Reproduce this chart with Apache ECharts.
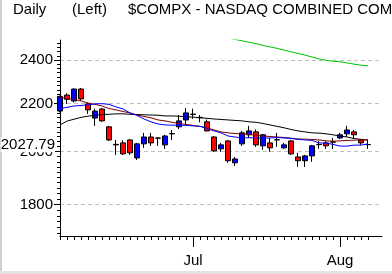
<!DOCTYPE html>
<html><head><meta charset="utf-8">
<script src="https://cdn.jsdelivr.net/npm/echarts@6/dist/echarts.min.js"></script>
<style>html,body{margin:0;padding:0;background:#fff}#c{width:392px;height:274px}</style>
</head><body><div id="c"></div>
<script>
const dates = ['6/5','6/6','6/7','6/8','6/11','6/12','6/13','6/14','6/15','6/18','6/19','6/20','6/21','6/22','6/25','6/26','6/27','6/28','6/29','7/2','7/3','7/5','7/6','7/9','7/10','7/11','7/12','7/13','7/16','7/17','7/18','7/19','7/20','7/23','7/24','7/25','7/26','7/27','7/30','7/31','8/1','8/2','8/3','8/6','8/7'];
const opens  = [2168,2238,2212,2265,2199,2138,2177,2101,2029,2035,2047,1975,2031,2059,2055,2027,2073,2101,2130,2155,2141,2122,2059,2011,2043,1956,2031,2068,2080,2023,2035,2048,2015,2043,1979,1964,1983,2029,2035,2039,2055,2072,2080,2047,2028.5];
const closes = [2232,2219,2265,2221,2173,2168,2126,2047,2027,1991,1995,2031,2059,2035,2054,2063,2072,2126,2160,2153,2140,2084,2003,2027,1964,1971,2076,2084,2027,2068,2015,2047,2027,1991,1964,1983,2023,2028,2023,2038,2068,2088,2068,2035,2027.79];
const lows   = [2162,2199,2205,2212,2156,2105,2122,2043,1987,1987,1987,1967,2015,2023,2023,2011,2047,2092,2113,2134,2120,2082,1999,1999,1956,1944,2023,2055,2019,2007,1999,2019,2011,1987,1940,1940,1960,2011,2011,2011,2051,2059,2051,2027,2011];
const highs  = [2236,2247,2268,2270,2205,2178,2181,2105,2047,2046,2051,2035,2076,2076,2059,2068,2088,2151,2181,2178,2151,2132,2063,2035,2047,1979,2084,2105,2090,2072,2055,2076,2035,2047,1995,1987,2027,2043,2043,2055,2076,2105,2088,2051,2047];
const maShort = [2179,2184,2190,2192,2195,2199,2200,2197,2186,2177,2160,2149,2134,2122,2113,2109,2108,2108,2107,2105,2103,2094,2084,2076,2063,2059,2055,2056,2055,2054,2055,2057,2055,2053,2049,2047,2045,2035,2034,2029,2022,2022,2026,2026,2031];
const maMid   = [2228,2223,2219,2212,2203,2197,2190,2179,2173,2166,2160,2151,2145,2139,2130,2126,2120,2115,2111,2107,2103,2097,2088,2080,2076,2073,2072,2070,2066,2063,2061,2059,2057,2054,2051,2050,2049,2047,2043,2042,2043,2045,2046,2047,2047];
const maLong  = [2109,2125,2133,2141,2146,2150,2153,2154,2156,2156,2154,2153,2152,2151,2150,2147,2147,2146,2143,2142,2139,2137,2134,2132,2130,2128,2126,2122,2120,2115,2109,2103,2097,2090,2084,2080,2076,2075,2072,2068,2063,2059,2053,2049,2047];
const ma200   = [null,null,null,null,null,null,null,null,null,null,null,null,null,null,null,null,null,null,null,null,null,null,null,null,2506,2500,2493,2486,2479,2470,2463,2456,2447,2439,2431,2423,2414,2405,2398,2394,2391,2386,2380,2375,2372];
const yTickValues = [1800,2000,2200,2400];
const lastPrice = 2027.79;
const monthTickIdx = [19,40];
const monthLabels = ['Jul','Aug'];
const titleParts = ['Daily','(Left)','$COMPX - NASDAQ COMBINED COMPOSITE INDEX'];

const FONT = "'Liberation Sans', Arial, sans-serif";
const categories = dates.concat(['','']);
const minorTicks = [];
for (let v = 1700; v <= 2480; v += 20) minorTicks.push(v);
const yMin = 1691, yMax = 2497;
const logBase = {type:'log', logBase:10, min:yMin, max:yMax, position:'left', gridIndex:0};

const chart = echarts.init(document.getElementById('c'), null, {renderer:'canvas'});
chart.setOption({
  animation:false,
  backgroundColor:'#fff',
  title: [
    {text:titleParts[0], left:13, top:2, padding:0, textStyle:{fontFamily:FONT, fontSize:15, fontWeight:'normal', color:'#000'}},
    {text:titleParts[1], left:72, top:2, padding:0, textStyle:{fontFamily:FONT, fontSize:15, fontWeight:'normal', color:'#000'}},
    {text:titleParts[2], left:128, top:2, padding:0, textStyle:{fontFamily:FONT, fontSize:15, fontWeight:'normal', color:'#000'}}
  ],
  graphic: [
    {type:'rect', shape:{x:0,y:0,width:2,height:274}, style:{fill:'#d4d0c8'}, silent:true},
    {type:'rect', shape:{x:0,y:271,width:392,height:3}, style:{fill:'#e4e4e4'}, silent:true}
  ],
  grid: {left:60, top:40, right:10, bottom:38, containLabel:false, outerBoundsMode:'none'},
  xAxis: [
    {type:'category', data:categories, boundaryGap:false, position:'bottom', gridIndex:0,
     axisLine:{show:true, onZero:false, lineStyle:{color:'#000', width:1}},
     axisTick:{show:true, length:4, interval:(i)=> i < dates.length, lineStyle:{color:'#000'}},
     axisLabel:{show:false}, splitLine:{show:false}},
    {type:'category', data:categories, boundaryGap:false, position:'bottom', gridIndex:0,
     axisLine:{show:false, onZero:false},
     axisTick:{show:true, length:11, interval:(i)=> monthTickIdx.indexOf(i) >= 0, lineStyle:{color:'#000'}},
     axisLabel:{show:true, interval:(i)=> monthTickIdx.indexOf(i) >= 0, margin:17,
       formatter:(v,i)=> { const k = monthTickIdx.indexOf(i); return k >= 0 ? monthLabels[k] : ''; },
       color:'#000', fontSize:15, fontFamily:FONT},
     splitLine:{show:false}}
  ],
  yAxis: [
    Object.assign({}, logBase, {
      axisLine:{show:true, lineStyle:{color:'#000', width:1}},
      axisTick:{show:true, length:6, customValues:yTickValues, lineStyle:{color:'#000'}},
      axisLabel:{show:true, customValues:yTickValues, formatter:(v)=> String(Math.round(v)), margin:7, color:'#000', fontSize:15, fontFamily:FONT},
      splitLine:{show:true, lineStyle:{color:'#c0c0c0', width:1, type:[4,3]}}
    }),
    Object.assign({}, logBase, {
      axisLine:{show:false},
      axisTick:{show:true, length:3, customValues:minorTicks, lineStyle:{color:'#000'}},
      axisLabel:{show:false}, splitLine:{show:false}
    }),
    Object.assign({}, logBase, {
      z:10,
      axisLine:{show:false},
      axisTick:{show:false},
      axisLabel:{show:true, customValues:[lastPrice], formatter:()=> lastPrice.toFixed(2), margin:5, color:'#000', fontSize:15, fontFamily:FONT, backgroundColor:'#fff', padding:[0,0,0,0]},
      splitLine:{show:false}
    })
  ],
  series: [
    {type:'candlestick', xAxisIndex:0, yAxisIndex:0, barWidth:5,
     data: dates.map((d,i)=> [opens[i], closes[i], lows[i], highs[i]]),
     itemStyle:{color:'#0000ff', color0:'#ff0000', borderColor:'#000', borderColor0:'#000', borderColorDoji:'#000', borderWidth:1}},
    {type:'line', xAxisIndex:0, yAxisIndex:0, data:maLong, symbol:'none', lineStyle:{color:'#000', width:1}, z:3},
    {type:'line', xAxisIndex:0, yAxisIndex:0, data:maMid, symbol:'none', lineStyle:{color:'#800000', width:1}, z:3},
    {type:'line', xAxisIndex:0, yAxisIndex:0, data:maShort, symbol:'none', lineStyle:{color:'#0000ff', width:1}, z:3},
    {type:'line', xAxisIndex:0, yAxisIndex:0, data:ma200, symbol:'none', lineStyle:{color:'#00c000', width:1}, z:3, clip:true}
  ]
});
</script></body></html>
